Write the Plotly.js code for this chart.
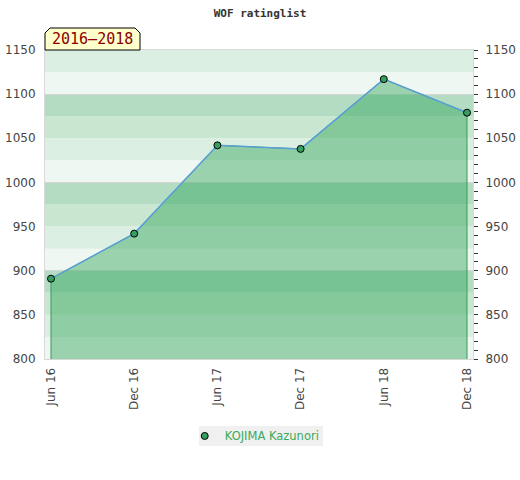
<!DOCTYPE html>
<html><head><meta charset="utf-8">
<script src="https://cdn.plot.ly/plotly-3.0.1.min.js"></script>
<style>html,body{margin:0;padding:0;background:#fff}#chart{width:520px;height:480px}</style>
</head><body><div id="chart"></div>
<script>
const chartTitle = 'WOF ratinglist';
const periodLabel = '2016\u20132018';
const seriesName = 'KOJIMA Kazunori';
const periods = ['Jun 16','Dec 16','Jun 17','Dec 17','Jun 18','Dec 18'];
const ratings = [891, 942, 1042, 1038, 1117, 1079];
const yMin = 800, yMax = 1150;
const bandStep = 25;
const bandColors = ['#eef7f1','#dbeee2','#c9e6d1','#b3dcc3'];

const shapes = [];
for (let y = yMin; y < yMax; y += bandStep) {
  const idx = Math.round(((y % 100) + 100) % 100 / bandStep);
  shapes.push({type:'rect', layer:'below', xref:'paper', yref:'y', x0:0, x1:1, y0:y, y1:y+bandStep,
    fillcolor: bandColors[idx], line:{width:0}});
}
// label box with chamfered top corners (paper coords)
const c = 5/428, cy = 5/309;
const bx1 = 95/428, by1 = 22/309;
shapes.push({type:'path', xref:'paper', yref:'paper', layer:'above',
  path:`M 0 1 L 0 ${1+by1-cy} L ${c} ${1+by1} L ${bx1-c} ${1+by1} L ${bx1} ${1+by1-cy} L ${bx1} 1 Z`,
  fillcolor:'#ffffcc', line:{color:'#000', width:1}});
// legend background box
shapes.push({type:'rect', xref:'paper', yref:'paper', layer:'above',
  x0:154/428, x1:278/428, y0:(359-446)/309, y1:(359-426)/309,
  fillcolor:'#f0f0f0', line:{width:0}});

const polyX = [periods[0], ...periods, periods[periods.length-1]];
const polyY = [yMin, ...ratings, yMin];

const traces = [
  {x: polyX, y: polyY, type:'scatter', mode:'lines', fill:'toself',
   fillcolor:'rgba(45,165,86,0.44)', line:{color:'#3a9a5a', width:1}, showlegend:false, hoverinfo:'skip'},
  {x: periods, y: ratings, type:'scatter', mode:'lines', line:{color:'#5a9fd6', width:1.5}, showlegend:false},
  {x: periods, y: ratings, type:'scatter', mode:'markers', name: seriesName,
   marker:{color:'#33a060', size:7, line:{color:'#000', width:1}}},
  {x: periods, y: ratings, type:'scatter', mode:'markers', yaxis:'y2', showlegend:false, hoverinfo:'skip',
   marker:{opacity:0}},
  {x: periods, y: ratings, type:'scatter', mode:'markers', yaxis:'y3', showlegend:false, hoverinfo:'skip',
   marker:{opacity:0}}
];

const tickFont = {family:'DejaVu Sans, sans-serif', size:12, color:'#444'};
const layout = {
  width:520, height:480,
  margin:{l:45, r:47, t:50, b:121},
  paper_bgcolor:'#fff', plot_bgcolor:'#fff',
  title:{text: chartTitle, x:0.5, xanchor:'center', y:0.973, yanchor:'middle',
    font:{family:'DejaVu Sans Mono, monospace', size:11, color:'#333', weight:'bold'}},
  xaxis:{type:'category', range:[-0.072, periods.length-1+0.072], tickangle:-90,
    showgrid:false, zeroline:false, ticks:'', tickfont:tickFont,
    showline:true, linecolor:'#d8d8d8', mirror:true, ticklabelstandoff:3},
  yaxis:{range:[yMin,yMax], dtick:50, tick0:0, showgrid:false, zeroline:false, ticks:'',
    tickfont:tickFont, showline:true, linecolor:'#d8d8d8', mirror:true, ticklabelstandoff:6},
  yaxis2:{range:[yMin,yMax], overlaying:'y', side:'right', dtick:50, tick0:0, showgrid:false, zeroline:false,
    ticks:'outside', ticklen:4, tickcolor:'#333', tickfont:tickFont, ticklabelstandoff:5,
    minor:{dtick:10, tick0:0, ticks:'outside', ticklen:4, tickcolor:'#333'}},
  yaxis3:{range:[yMin,yMax], overlaying:'y', dtick:100, tick0:0, showgrid:true, gridcolor:'#d6d6d6',
    gridwidth:1, showticklabels:false, ticks:'', zeroline:false},
  shapes: shapes,
  annotations:[{xref:'paper', yref:'paper', x:bx1/2, y:1+by1/2, xanchor:'center', yanchor:'middle',
    text: periodLabel, showarrow:false,
    font:{family:'DejaVu Sans Mono, monospace', size:15, color:'#8b0000'}}],
  legend:{orientation:'h', x:0.49, xanchor:'center', y:-0.249, yanchor:'middle', itemwidth:30,
    bgcolor:'rgba(0,0,0,0)', font:{family:'DejaVu Sans, sans-serif', size:11.5, color:'#3aaa5a'}},
  showlegend:true
};
Plotly.newPlot('chart', traces, layout, {displayModeBar:false, staticPlot:true});
</script></body></html>
